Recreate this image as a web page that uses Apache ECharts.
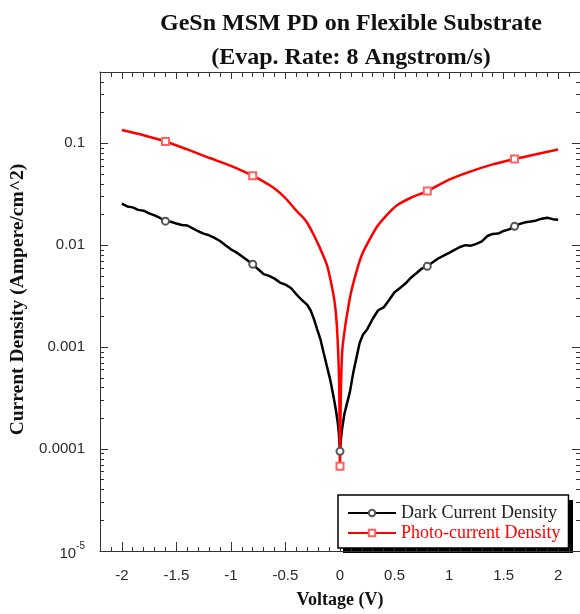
<!DOCTYPE html>
<html>
<head>
<meta charset="utf-8">
<title>GeSn MSM PD</title>
<script src="https://cdn.jsdelivr.net/npm/echarts@6/dist/echarts.min.js"></script>
<style>
  html, body { margin: 0; padding: 0; background: #fff; }
  #chart { width: 580px; height: 614px; }
</style>
</head>
<body>
<div id="chart"></div>
<script>
// dark current (black line)
const darkV = [-2.00, -1.95, -1.90, -1.85, -1.80, -1.75, -1.70, -1.65, -1.60, -1.55, -1.50, -1.45, -1.40, -1.35, -1.30,
  -1.25, -1.20, -1.15, -1.10, -1.05, -1.00, -0.95, -0.90, -0.85, -0.80, -0.75, -0.70, -0.65, -0.60, -0.55, -0.50,
  -0.45, -0.40, -0.35, -0.30, -0.27, -0.24, -0.21, -0.18, -0.15, -0.12, -0.09, -0.06, -0.04, -0.02, -0.01, 0.00,
  0.01, 0.02, 0.04, 0.06, 0.09, 0.12, 0.15, 0.18, 0.21, 0.25, 0.30, 0.35, 0.40, 0.45, 0.50, 0.55, 0.60, 0.65,
  0.70, 0.75, 0.80, 0.85, 0.90, 0.95, 1.00, 1.05, 1.10, 1.15, 1.20, 1.25, 1.30, 1.35, 1.40, 1.45, 1.50, 1.55,
  1.60, 1.65, 1.70, 1.75, 1.80, 1.85, 1.90, 1.95, 2.00];
const darkJ = [0.0256, 0.0240, 0.0235, 0.0222, 0.0218, 0.0205, 0.0196, 0.0185, 0.0172, 0.0170, 0.0163, 0.0158, 0.0156, 0.0146, 0.0137,
  0.0130, 0.0125, 0.0118, 0.0110, 0.0100, 0.0091, 0.0085, 0.0078, 0.0071, 0.0065, 0.0058, 0.0052, 0.0050, 0.0047, 0.0043, 0.0041,
  0.0038, 0.0033, 0.0029, 0.0026, 0.0023, 0.0019, 0.0015, 0.0012, 0.00088, 0.00065, 0.00048, 0.00033, 0.00025, 0.00018, 0.00014, 0.000095,
  0.00013, 0.00016, 0.00022, 0.00027, 0.00036, 0.00055, 0.00078, 0.0011, 0.00132, 0.0015, 0.0019, 0.0023, 0.00245, 0.0029, 0.00345, 0.0038, 0.0042, 0.0048,
  0.0053, 0.0059, 0.0062, 0.0068, 0.0074, 0.0079, 0.0084, 0.0090, 0.0096, 0.0100, 0.0099, 0.0103, 0.0109, 0.0123, 0.0129, 0.0130, 0.0138, 0.0143,
  0.0153, 0.0162, 0.0168, 0.0171, 0.0175, 0.0182, 0.0186, 0.0180, 0.0178];

// photo current (red line)
const photoV = [-2.00, -1.80, -1.60, -1.40, -1.20, -1.00, -0.80, -0.70, -0.60, -0.50, -0.40, -0.34, -0.30, -0.24, -0.18, -0.12, -0.08,
  -0.05, -0.03, -0.015, -0.007, 0.00, 0.007, 0.02, 0.04, 0.065, 0.10, 0.155, 0.20, 0.25, 0.336, 0.42, 0.52, 0.65,
  0.80, 1.00, 1.20, 1.40, 1.60, 1.80, 2.00];
const photoJ = [0.135, 0.120, 0.104, 0.087, 0.072, 0.060, 0.048, 0.042, 0.036, 0.029, 0.0218, 0.0188, 0.0165, 0.0126, 0.0092, 0.0064, 0.0042,
  0.0028, 0.0017, 0.0008, 0.0004, 0.000068, 0.0003, 0.0009, 0.0014, 0.0021, 0.0034, 0.0057, 0.0080, 0.0103, 0.0150, 0.0193, 0.0245, 0.0292,
  0.0340, 0.0440, 0.0530, 0.0620, 0.0700, 0.0780, 0.0870];

// voltages where the open markers sit
const markerV = [-1.6, -0.8, 0, 0.8, 1.6];

const xLabels = [-2, -1.5, -1, -0.5, 0, 0.5, 1, 1.5, 2];
const yLabels = [0.00001, 0.0001, 0.001, 0.01, 0.1];

// minor ticks
let xMinor = [];
for (let i = -22; i <= 22; i++) xMinor.push(i / 10);
let yMinor = [];
for (let e = -5; e <= -1; e++) {
  for (let m = 2; m <= 9; m++) {
    let v = m * Math.pow(10, e);
    if (v <= 0.5) yMinor.push(v);
  }
}

const axisColor = "#333";
const labelFont = { fontFamily: "Liberation Sans", fontSize: 15, color: "#2a2a2a" };

function toData(vs, js, symbol) {
  return vs.map((v, i) => ({
    value: [v, js[i]],
    symbol: markerV.indexOf(v) >= 0 ? symbol : "none",
  }));
}

function xAx(pos, ticks, len, withLabel, withLine) {
  return {
    type: "value",
    position: pos,
    min: -2.2,
    max: 2.2,
    splitLine: { show: false },
    axisLine: { show: withLine, onZero: false, lineStyle: { color: axisColor, width: 1 } },
    axisTick: { show: true, inside: true, length: len, customValues: ticks, lineStyle: { color: axisColor } },
    axisLabel: withLabel
      ? Object.assign({ show: true, margin: 17, customValues: xLabels }, labelFont)
      : { show: false },
  };
}

function yAx(pos, ticks, len, withLabel, withLine) {
  return {
    type: "log",
    position: pos,
    logBase: 10,
    min: 0.00001,
    max: 0.5,
    splitLine: { show: false },
    axisLine: { show: withLine, onZero: false, lineStyle: { color: axisColor, width: 1 } },
    axisTick: { show: true, inside: true, length: len, customValues: ticks, lineStyle: { color: axisColor } },
    axisLabel: withLabel
      ? Object.assign({
          show: true,
          margin: 15,
          customValues: yLabels,
          formatter: function (v) {
            if (v < 0.00005) return "{b|10}{s|-5}";
            return String(v);
          },
          rich: {
            b: { fontFamily: "Liberation Sans", fontSize: 15, color: "#2a2a2a", lineHeight: 20, verticalAlign: "bottom" },
            s: { fontFamily: "Liberation Sans", fontSize: 10, color: "#2a2a2a", lineHeight: 20, verticalAlign: "top" },
          },
        }, labelFont)
      : { show: false },
  };
}

const chart = echarts.init(document.getElementById("chart"));

const xMain = xAx("bottom", xLabels, 9, true, true);
xMain.name = "Voltage (V)";
xMain.nameLocation = "middle";
xMain.nameGap = 40;
xMain.nameTextStyle = { fontFamily: "Liberation Serif", fontWeight: "bold", fontSize: 18, color: "#111" };

const yMain = yAx("left", yLabels, 8, true, true);
yMain.name = "Current Density (Ampere/cm^2)";
yMain.nameLocation = "middle";
yMain.nameGap = 70;
yMain.nameTextStyle = {
  fontFamily: "Liberation Serif", fontWeight: "bold", fontSize: 19.5, color: "#111",
  padding: [0, 0, 0, 24],
};

const option = {
  animation: false,
  backgroundColor: "#fff",
  title: {
    text: "GeSn MSM PD on Flexible Substrate\n(Evap. Rate: 8 Angstrom/s)",
    left: 346,
    top: 2,
    textAlign: "center",
    textStyle: { fontFamily: "Liberation Serif", fontWeight: "bold", fontSize: 24, lineHeight: 34, color: "#111" },
  },
  grid: { left: 100, right: -3, top: 72, bottom: 52 },
  // solid drop shadow behind the legend box
  graphic: [{
    type: "rect",
    z: 0,
    shape: { x: 343, y: 500, width: 230, height: 53 },
    style: { fill: "#000" },
  }],
  legend: {
    left: 338,
    top: 495,
    z: 5,
    orient: "vertical",
    itemWidth: 48,
    itemHeight: 8,
    itemGap: 0,
    padding: [8, 8, 5, 9],
    backgroundColor: "#fff",
    borderColor: "#000",
    borderWidth: 1.5,
    borderRadius: 0,
    textStyle: { fontFamily: "Liberation Serif", fontSize: 18, lineHeight: 20 },
    data: [
      { name: "Dark Current Density", textStyle: { color: "#222" } },
      { name: "Photo-current Density", textStyle: { color: "#ff0000" } },
    ],
  },
  xAxis: [
    xMain,
    xAx("bottom", xMinor, 4, false, false),
    xAx("top", xLabels, 7, false, true),
    xAx("top", xMinor, 5, false, false),
  ],
  yAxis: [
    yMain,
    yAx("left", yMinor, 4, false, false),
    yAx("right", yLabels, 8, false, true),
    yAx("right", yMinor, 4, false, false),
  ],
  series: [
    {
      name: "Dark Current Density",
      type: "line",
      symbol: "emptyCircle",
      symbolSize: 7,
      showAllSymbol: true,
      lineStyle: { color: "#000", width: 2.5 },
      itemStyle: { color: "#555", borderWidth: 1.2 },
      data: toData(darkV, darkJ, "emptyCircle"),
    },
    {
      name: "Photo-current Density",
      type: "line",
      symbol: "emptyRect",
      symbolSize: 7,
      showAllSymbol: true,
      smooth: 0.25,
      lineStyle: { color: "#ff0000", width: 2.5 },
      itemStyle: { color: "#ff6060", borderWidth: 1.2 },
      data: toData(photoV, photoJ, "emptyRect"),
    },
  ],
};

chart.setOption(option);
</script>
</body>
</html>
